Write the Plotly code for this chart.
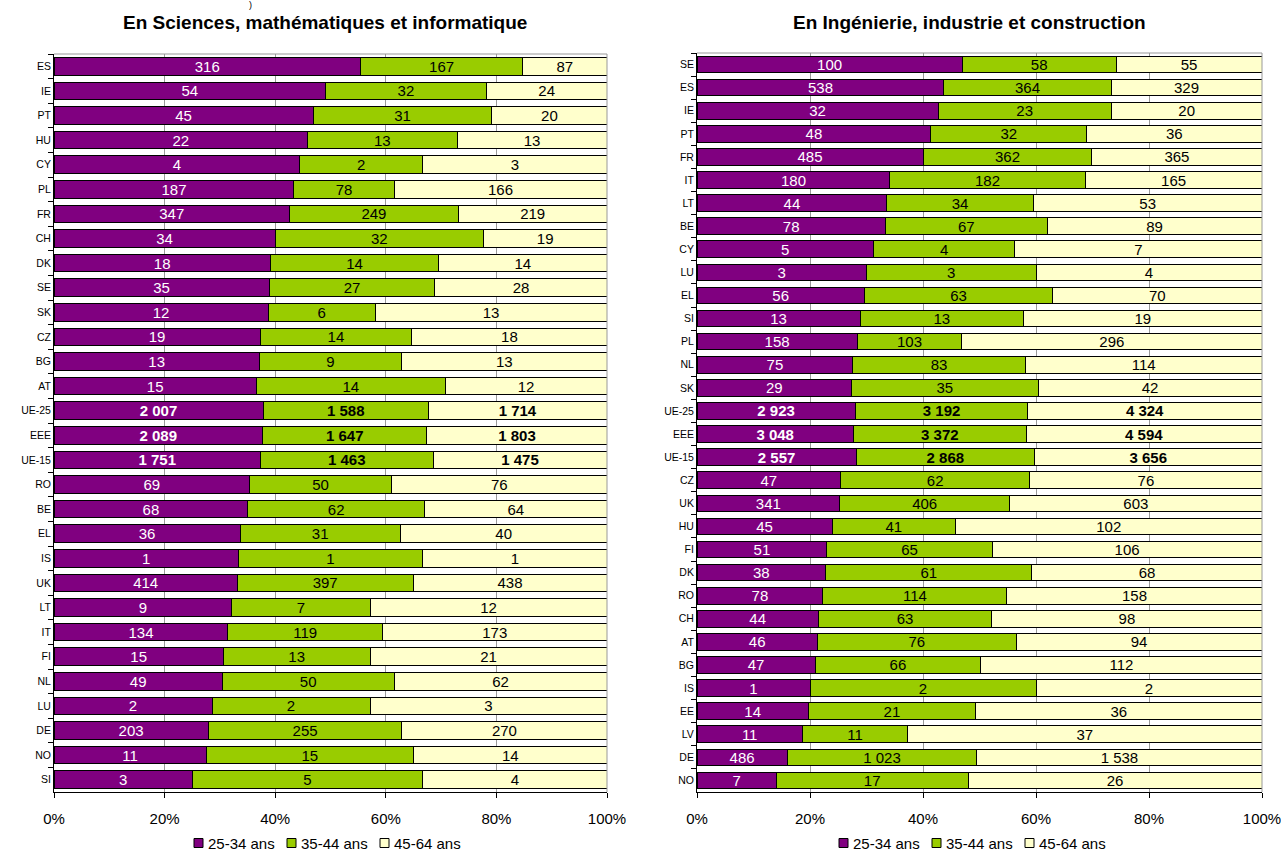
import plotly.graph_objects as go

# ---------------- Data ----------------
series_names = ["25-34 ans", "35-44 ans", "45-64 ans"]

sci_countries = ["ES", "IE", "PT", "HU", "CY", "PL", "FR", "CH", "DK", "SE", "SK", "CZ", "BG", "AT",
                 "UE-25", "EEE", "UE-15", "RO", "BE", "EL", "IS", "UK", "LT", "IT", "FI", "NL", "LU",
                 "DE", "NO", "SI"]
sci_25_34 = [316, 54, 45, 22, 4, 187, 347, 34, 18, 35, 12, 19, 13, 15,
             2007, 2089, 1751, 69, 68, 36, 1, 414, 9, 134, 15, 49, 2, 203, 11, 3]
sci_35_44 = [167, 32, 31, 13, 2, 78, 249, 32, 14, 27, 6, 14, 9, 14,
             1588, 1647, 1463, 50, 62, 31, 1, 397, 7, 119, 13, 50, 2, 255, 15, 5]
sci_45_64 = [87, 24, 20, 13, 3, 166, 219, 19, 14, 28, 13, 18, 13, 12,
             1714, 1803, 1475, 76, 64, 40, 1, 438, 12, 173, 21, 62, 3, 270, 14, 4]

eng_countries = ["SE", "ES", "IE", "PT", "FR", "IT", "LT", "BE", "CY", "LU", "EL", "SI", "PL", "NL", "SK",
                 "UE-25", "EEE", "UE-15", "CZ", "UK", "HU", "FI", "DK", "RO", "CH", "AT", "BG", "IS",
                 "EE", "LV", "DE", "NO"]
eng_25_34 = [100, 538, 32, 48, 485, 180, 44, 78, 5, 3, 56, 13, 158, 75, 29,
             2923, 3048, 2557, 47, 341, 45, 51, 38, 78, 44, 46, 47, 1, 14, 11, 486, 7]
eng_35_44 = [58, 364, 23, 32, 362, 182, 34, 67, 4, 3, 63, 13, 103, 83, 35,
             3192, 3372, 2868, 62, 406, 41, 65, 61, 114, 63, 76, 66, 2, 21, 11, 1023, 17]
eng_45_64 = [55, 329, 20, 36, 365, 165, 53, 89, 7, 4, 70, 19, 296, 114, 42,
             4324, 4594, 3656, 76, 603, 102, 106, 68, 158, 98, 94, 112, 2, 36, 37, 1538, 26]

aggregates = ["UE-25", "EEE", "UE-15"]
title_left = "En Sciences, mathématiques et informatique"
title_right = "En Ingénierie, industrie et construction"
x_ticks = [0, 20, 40, 60, 80, 100]

colors = ["#800080", "#99CC00", "#FFFFCC"]
text_colors = ["white", "black", "black"]
FONT = "Liberation Sans, Arial, sans-serif"
W, H = 1281, 853


def fmt(v, bold):
    s = f"{v:,}".replace(",", " ")
    return f"<b>{s}</b>" if bold else s


def px(x):
    return x / W


def py(y):
    return 1 - y / H


fig = go.Figure()


def add_panel(countries, values_list, xa, ya):
    for i, (name, vals) in enumerate(zip(series_names, values_list)):
        texts = [fmt(v, c in aggregates) for v, c in zip(vals, countries)]
        fig.add_trace(go.Bar(
            y=countries, x=vals, orientation="h", name=name, showlegend=False,
            marker=dict(color=colors[i], line=dict(color="black", width=1)),
            text=texts, textposition="inside", insidetextanchor="middle",
            textangle=0,
            textfont=dict(color=text_colors[i], size=15, family=FONT),
            xaxis=xa, yaxis=ya, hoverinfo="skip",
        ))


add_panel(sci_countries, [sci_25_34, sci_35_44, sci_45_64], "x", "y")
add_panel(eng_countries, [eng_25_34, eng_35_44, eng_45_64], "x2", "y2")

xcommon = dict(range=[0, 100], tickvals=x_ticks, ticktext=[f"{t}%" for t in x_ticks],
               showgrid=True, gridcolor="#999999", gridwidth=1,
               showline=True, linecolor="black", linewidth=1,
               ticks="outside", ticklen=5, tickcolor="black", ticklabelstandoff=8,
               ticklabeloverflow="allow",
               tickfont=dict(size=15, family=FONT, color="black"),
               mirror=False, zeroline=False, fixedrange=True, automargin=False)
ycommon = dict(type="category", autorange="reversed",
               showline=True, linecolor="black", linewidth=1,
               ticks="outside", tickson="boundaries", ticklen=5, tickcolor="black",
               tickfont=dict(size=10.5, family=FONT, color="black"),
               showgrid=False, zeroline=False, fixedrange=True, automargin=False)

fig.update_layout(
    width=W, height=H,
    margin=dict(l=0, r=0, t=0, b=0, autoexpand=False),
    paper_bgcolor="white", plot_bgcolor="white",
    barmode="stack", barnorm="percent", bargap=0.28,
    uniformtext=dict(minsize=15, mode="show"),
    font=dict(family=FONT, color="black"),
    showlegend=False,
    xaxis=dict(domain=[px(54), px(607)], anchor="y", **xcommon),
    yaxis=dict(domain=[py(792), py(54)], anchor="x", **ycommon),
    xaxis2=dict(domain=[px(697), px(1262)], anchor="y2", **xcommon),
    yaxis2=dict(domain=[py(792), py(53)], anchor="x2", **ycommon),
)

# Plot-area frame lines (top and right, gray) as in the original
for top, x0, x1 in [(54, 54, 607), (53, 697, 1262)]:
    fig.add_shape(type="line", xref="paper", yref="paper", x0=px(x0), x1=px(x1), y0=py(top), y1=py(top),
                  line=dict(color="#999999", width=1))
    fig.add_shape(type="line", xref="paper", yref="paper", x0=px(x1), x1=px(x1), y0=py(top), y1=py(792),
                  line=dict(color="#999999", width=1))

# Titles
for t, cx in [(title_left, 325), (title_right, 970)]:
    fig.add_annotation(text=f"<b>{t}</b>", x=px(cx), y=py(23), xref="paper", yref="paper",
                       showarrow=False, font=dict(size=19, family=FONT, color="black"),
                       xanchor="center", yanchor="middle")

fig.add_annotation(text=")", x=px(250), y=py(5), xref="paper", yref="paper",
                   showarrow=False, font=dict(size=9, family=FONT, color="black"),
                   xanchor="center", yanchor="middle")

# Custom compact legends (small squares + labels), one under each panel
LEG_Y = 843
SQ = 9
for start in (194, 839):
    for i, name in enumerate(series_names):
        x0 = start + i * 93
        fig.add_shape(type="rect", xref="paper", yref="paper",
                      x0=px(x0), x1=px(x0 + SQ), y0=py(LEG_Y - SQ / 2), y1=py(LEG_Y + SQ / 2),
                      fillcolor=colors[i], line=dict(color="black", width=1))
        fig.add_annotation(text=name, x=px(x0 + SQ + 3), y=py(LEG_Y), xref="paper", yref="paper",
                           showarrow=False, font=dict(size=15, family=FONT, color="black"),
                           xanchor="left", yanchor="middle")

fig.write_html("out.html", config={"displayModeBar": False},
               post_script="document.body.style.margin='0';document.body.style.overflow='hidden';")
